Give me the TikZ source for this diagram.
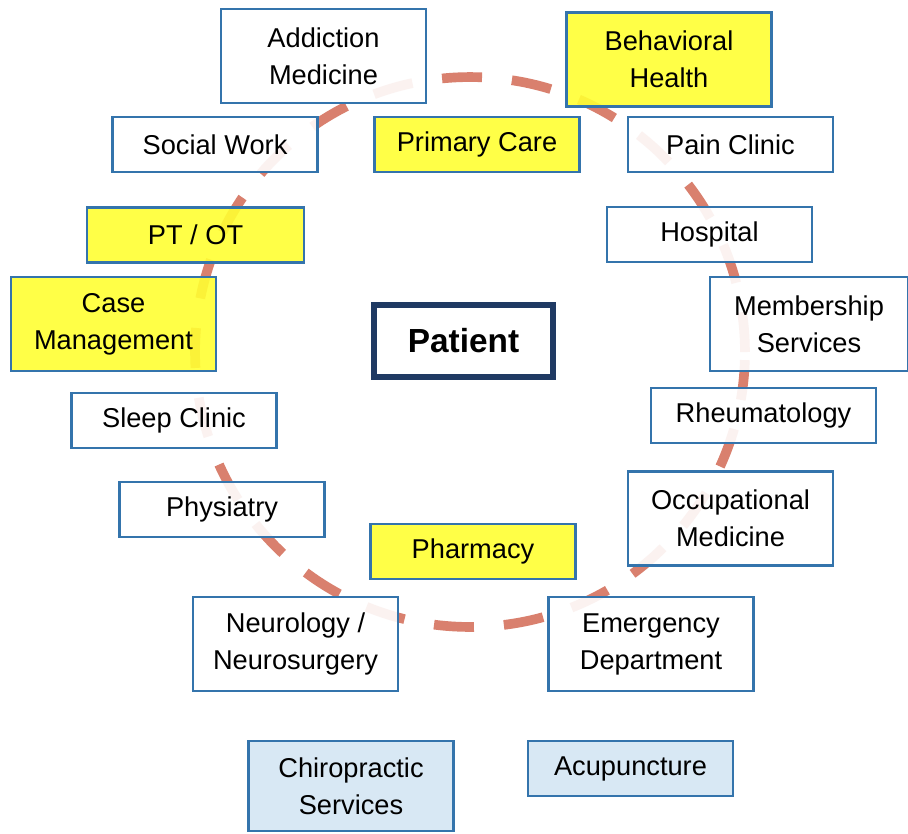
\documentclass[tikz,border=0pt]{standalone}
\usepackage{fontspec}
\setmainfont{Liberation Sans}
\usepackage{xcolor}
\definecolor{boxblue}{HTML}{3474AC}
\definecolor{navy}{HTML}{1F3A63}
\definecolor{hiyellow}{HTML}{FFFF33}
\definecolor{paleblue}{HTML}{D8E8F4}
\definecolor{salmon}{HTML}{D9806E}

\begin{document}
\begin{tikzpicture}[x=0.02cm,y=-0.02cm,
    svc/.style={draw=boxblue,line width=1.4pt,fill=white,fill opacity=0.9,text opacity=1,
      minimum width=4.1cm,minimum height=1.1cm,align=center,inner sep=0pt,
      font=\fontsize{15.5}{21}\selectfont},
    tall/.style={minimum height=1.88cm},
    hi/.style={fill=hiyellow},
    extra/.style={fill=paleblue,fill opacity=1}]

  \useasboundingbox (0,0) rectangle (908,833);
  \fill[white] (0,0) rectangle (908,833);

  % the ring round the patient
  \draw[salmon,line width=5.5pt,dash pattern=on 0.8cm off 0.6cm] (470,352) circle[radius=5.5cm];

  \node[svc,tall] (addiction) at (323.5,56) {Addiction\\Medicine};
  \node[svc,tall,hi] (behavioral) at (669,59.5) {Behavioral\\Health};
  \node[svc] (social) at (215,144.5) {Social Work};
  \node[svc,hi] (primary) at (477,144.5) {Primary Care};
  \node[svc] (pain) at (730.5,144.5) {Pain Clinic};
  \node[svc,hi,minimum width=4.34cm] (ptot) at (195.5,235) {PT / OT};
  \node[svc] (hospital) at (709.5,234.5) {Hospital};
  \node[svc,tall,hi] (casemgmt) at (113.5,324) {Case\\Management};
  \node[svc,tall,minimum width=3.96cm] (membership) at (809,324) {Membership\\Services};
  \node[svc] (sleep) at (174,420.5) {Sleep Clinic};
  \node[svc,minimum width=4.5cm] (rheuma) at (763.5,415.5) {Rheumatology};
  \node[svc] (physiatry) at (222,509.5) {Physiatry};
  \node[svc,tall] (occupational) at (730.5,518.5) {Occupational\\Medicine};
  \node[svc,hi] (pharmacy) at (473,551.5) {Pharmacy};
  \node[svc,tall] (neuro) at (295.5,644) {Neurology /\\Neurosurgery};
  \node[svc,tall] (emergency) at (651,644) {Emergency\\Department};
  \node[svc,extra,minimum height=1.8cm] (chiro) at (351,786) {Chiropractic\\Services};
  \node[svc,extra] (acupuncture) at (630.5,768.5) {Acupuncture};

  % the centre
  \node[draw=navy,line width=3pt,fill=white,minimum width=3.58cm,minimum height=1.44cm,
    font=\fontsize{19}{22}\selectfont\bfseries] (patient) at (463.5,341) {Patient};

\end{tikzpicture}
\end{document}
